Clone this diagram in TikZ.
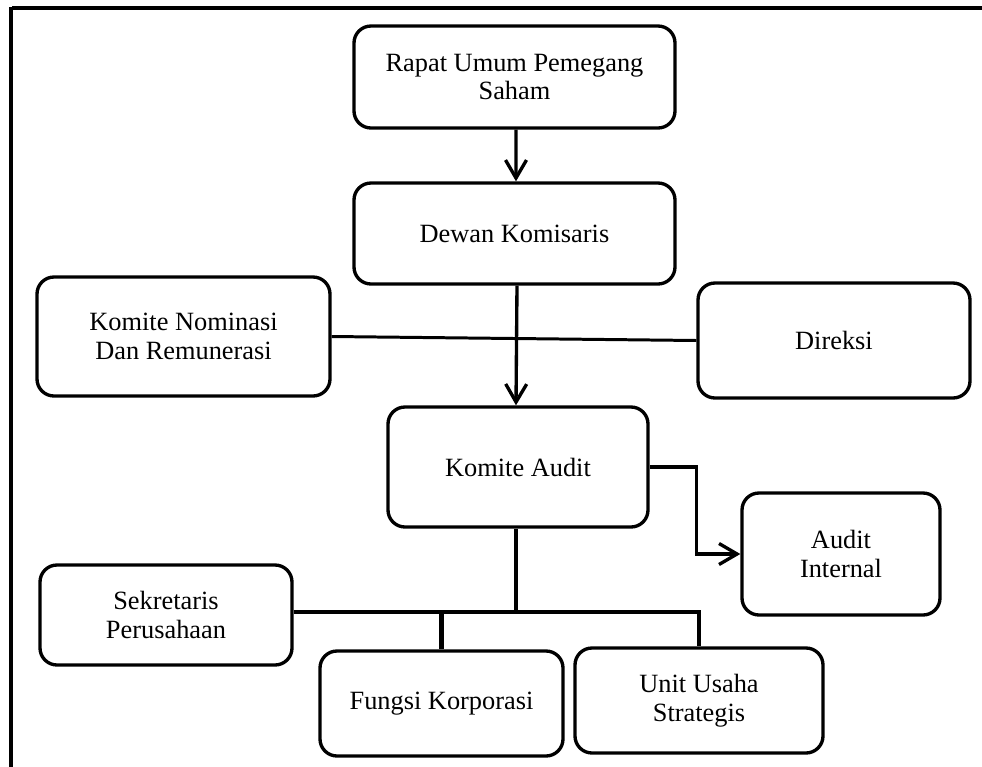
\documentclass[tikz,border=0pt]{standalone}
\usepackage{fontspec}
\setmainfont{Liberation Serif}
\usepackage{tikz}
\usetikzlibrary{arrows.meta}
\tikzset{every node/.style={font=\normalfont}}

\begin{document}
\begin{tikzpicture}[x=0.2mm, y=-0.2mm, every node/.style={font=\fontsize{15}{16.4}\selectfont}]
    % Define styles
    \tikzstyle{orgbox} = [rectangle, rounded corners=3.4mm, align=center, text centered, draw=black, line width=1.9pt]
    \tikzstyle{arrow} = [line width=1.9pt, -{Straight Barb[length=3.6mm, width=4.2mm, line width=1.9pt]}]
    \tikzstyle{tree} = [line width=2.5pt]

    \useasboundingbox (0,0) rectangle (982,767);

    % Frame
    \draw [line width=2.5pt] (12,8) -- (982,8);
    \draw [line width=2.1pt] (11,7) -- (11,767);

    % Top
    \node (rups) [orgbox, minimum width=64.2mm, minimum height=20.4mm] at (514.5,77) {Rapat Umum Pemegang\\Saham};
    \node (dekom) [orgbox, minimum width=64.2mm, minimum height=20.2mm] at (514.5,233.5) {Dewan Komisaris};

    % Middle
    \node (komnom) [orgbox, minimum width=58.6mm, minimum height=23.8mm] at (183.5,336.5) {Komite Nominasi\\Dan Remunerasi};
    \node (direksi) [orgbox, minimum width=54.4mm, minimum height=23mm] at (834,340.5) {Direksi};
    \node (komaudit) [orgbox, minimum width=52mm, minimum height=24mm] at (518,467) {Komite Audit};
    \node (auditint) [orgbox, minimum width=39.6mm, minimum height=24.4mm] at (841,554) {Audit\\Internal};

    % Bottom
    \node (sekper) [orgbox, minimum width=50.4mm, minimum height=20mm] at (166,615) {Sekretaris\\Perusahaan};
    \node (fungsi) [orgbox, minimum width=48.6mm, minimum height=21mm] at (441.5,703.5) {Fungsi Korporasi};
    \node (unit) [orgbox, minimum width=49.6mm, minimum height=21mm] at (699,700.5) {Unit Usaha\\Strategis};
    \coordinate (bar) at (516,612);

    % Connections
    \draw [arrow] (rups.south) ++(1.5,0) -- (bar |- dekom.north);
    \draw [line width=1.7pt] (komnom.east) -- (direksi.west);
    \draw [arrow] (dekom.south) ++(2.5,0) -- (bar |- komaudit.north);
    \draw [arrow] (komaudit.east) -- ++(47,0) |- (auditint.west);

    % Tree to bottom units
    \draw [tree] (komaudit.south -| bar) -- (bar);
    \draw [tree] (sekper.east |- bar) -- (bar -| unit.north) -- (unit.north);
    \draw [tree] (bar -| fungsi.north) -- (fungsi.north);
\end{tikzpicture}
\end{document}
